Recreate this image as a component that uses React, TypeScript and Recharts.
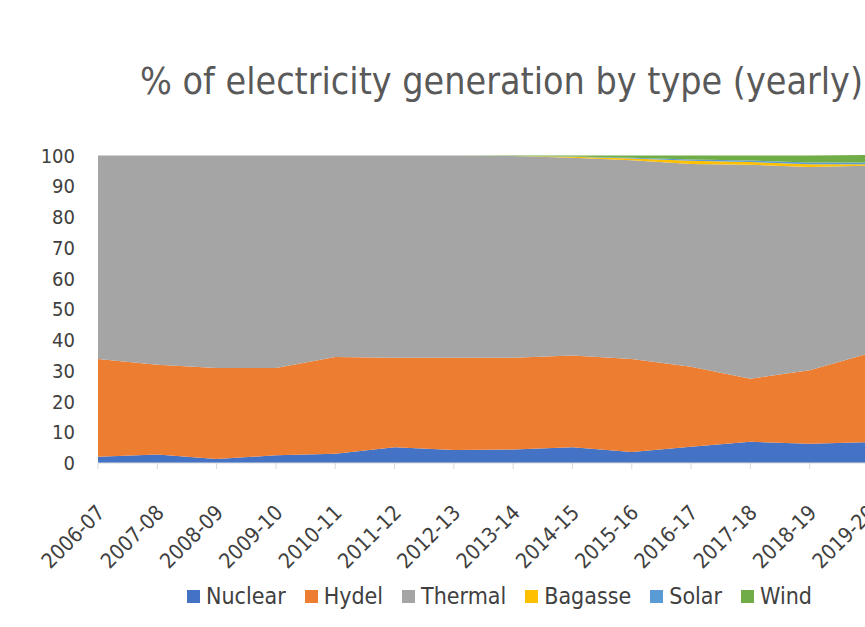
import { AreaChart, Area, XAxis, YAxis } from "recharts"

// fiscal years on the category axis
const years = [
  "2006-07", "2007-08", "2008-09", "2009-10", "2010-11", "2011-12", "2012-13",
  "2013-14", "2014-15", "2015-16", "2016-17", "2017-18", "2018-19", "2019-20",
]

// share of generation, %
const nuclear = [2.0, 2.8, 1.3, 2.5, 3.0, 5.1, 4.2, 4.4, 5.1, 3.6, 5.3, 6.9, 6.3, 6.8]
const hydel = [31.8, 29.2, 29.6, 28.4, 31.5, 29.1, 30.0, 29.8, 29.9, 30.2, 26.0, 20.5, 23.9, 28.9]
const thermal = [66.2, 68.0, 69.1, 69.1, 65.5, 65.8, 65.8, 65.7, 64.3, 64.7, 66.0, 69.6, 66.1, 61.0]
const bagasse = [0, 0, 0, 0, 0, 0, 0, 0, 0.3, 0.6, 1.0, 0.9, 0.9, 0.5]
const solar = [0, 0, 0, 0, 0, 0, 0, 0, 0.1, 0.2, 0.4, 0.5, 0.6, 0.6]
const wind = [0, 0, 0, 0, 0, 0, 0, 0.1, 0.3, 0.7, 1.3, 1.6, 2.2, 2.4]

const yTicks = [0, 10, 20, 30, 40, 50, 60, 70, 80, 90, 100]

const series = [
  { key: "Nuclear", color: "#4472C4" },
  { key: "Hydel", color: "#ED7D31" },
  { key: "Thermal", color: "#A5A5A5" },
  { key: "Bagasse", color: "#FFC000" },
  { key: "Solar", color: "#5B9BD5" },
  { key: "Wind", color: "#70AD47" },
]

const data = years.map((year, i) => ({
  year,
  Nuclear: nuclear[i],
  Hydel: hydel[i],
  Thermal: thermal[i],
  Bagasse: bagasse[i],
  Solar: solar[i],
  Wind: wind[i],
}))

const FONT = "'DejaVu Sans Condensed', 'Liberation Sans Narrow', sans-serif"
const TEXT = "#404040"

function YearTick(props: any) {
  const { x, y, payload } = props
  const ax = x + 8
  const ay = y + 43
  return (
    <text
      x={ax}
      y={ay}
      textAnchor="end"
      fontSize={21}
      fill={TEXT}
      fontFamily={FONT}
      transform={`rotate(-45, ${ax}, ${ay})`}
    >
      {payload.value}
    </text>
  )
}

export default function App() {
  return (
    <div
      style={{
        position: "fixed",
        left: 0,
        top: 0,
        width: 865,
        height: 627,
        overflow: "hidden",
        background: "#fff",
      }}
    >
      <div
        style={{
          position: "absolute",
          left: 140,
          top: 59,
          fontFamily: FONT,
          fontSize: 37.3,
          color: "#595959",
          whiteSpace: "nowrap",
        }}
      >
        % of electricity generation by type (yearly)
      </div>
      <AreaChart
        width={900}
        height={627}
        data={data}
        margin={{ top: 155, right: 31, left: 38, bottom: 64 }}
      >
        <XAxis
          dataKey="year"
          interval={0}
          height={100}
          tick={<YearTick />}
          tickSize={6}
          axisLine={{ stroke: "#d9d9d9" }}
          tickLine={{ stroke: "#d9d9d9" }}
        />
        <YAxis
          domain={[0, 100]}
          ticks={yTicks}
          width={60}
          axisLine={false}
          tickLine={false}
          tickSize={0}
          tickMargin={23}
          tick={{ fontSize: 20, fill: TEXT, fontFamily: FONT }}
        />
        {series.map((s) => (
          <Area
            key={s.key}
            type="linear"
            dataKey={s.key}
            stackId="1"
            stroke="none"
            fill={s.color}
            fillOpacity={1}
            isAnimationActive={false}
          />
        ))}
      </AreaChart>
      <div
        style={{
          position: "absolute",
          left: 187,
          top: 583,
          display: "flex",
          gap: 19,
          fontFamily: FONT,
          fontSize: 23,
          color: TEXT,
          whiteSpace: "nowrap",
        }}
      >
        {series.map((s) => (
          <div key={s.key} style={{ display: "flex", alignItems: "center" }}>
            <span style={{ width: 13, height: 13, background: s.color, marginRight: 6 }} />
            {s.key}
          </div>
        ))}
      </div>
    </div>
  )
}
